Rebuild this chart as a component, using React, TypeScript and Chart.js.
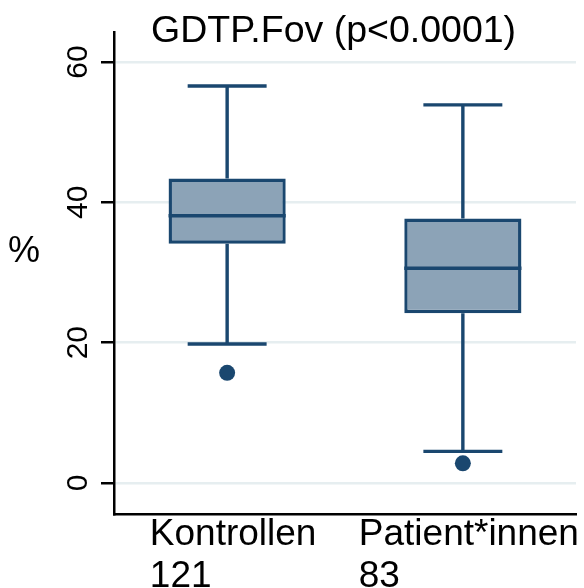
import React, { useEffect, useRef } from 'react';
import { Chart, registerables } from 'chart.js';

Chart.register(...registerables);

const categories = ['Kontrollen', 'Patient*innen'];
const counts = ['121', '83'];
const positions = [1, 2];
const q1 = [34.1, 24.2];
const median = [38.1, 30.6];
const q3 = [43.4, 37.7];
const whiskerLow = [19.8, 4.5];
const whiskerHigh = [56.6, 53.9];
const outlierPos = [1, 2];
const outlierVal = [15.7, 2.8];
const yTicks = [0, 20, 40, 60];
const titleText = 'GDTP.Fov (p<0.0001)';
const yLabel = '%';

const NAVY = '#1a476f';
const FILL = '#8ca3b7';
const FONT = '"Liberation Sans", Arial, sans-serif';
const LW = 3.4;

const boxPlugin = {
  id: 'boxExtras',
  beforeDatasetsDraw(chart: any) {
    const ctx = chart.ctx;
    const xs = chart.scales.x;
    const ys = chart.scales.y;
    const meta = chart.getDatasetMeta(0);
    ctx.save();
    ctx.strokeStyle = NAVY;
    ctx.lineWidth = LW;
    positions.forEach((p, i) => {
      const x = xs.getPixelForValue(p);
      const bar = meta.data[i];
      const half = (bar ? bar.width : 117) * 0.337;
      const yHi = ys.getPixelForValue(whiskerHigh[i]);
      const yQ3 = ys.getPixelForValue(q3[i]);
      const yQ1 = ys.getPixelForValue(q1[i]);
      const yLo = ys.getPixelForValue(whiskerLow[i]);
      ctx.beginPath();
      ctx.moveTo(x, yHi);
      ctx.lineTo(x, yQ3);
      ctx.moveTo(x, yQ1);
      ctx.lineTo(x, yLo);
      ctx.moveTo(x - half, yHi);
      ctx.lineTo(x + half, yHi);
      ctx.moveTo(x - half, yLo);
      ctx.lineTo(x + half, yLo);
      ctx.stroke();
    });
    ctx.restore();
  },
  afterDatasetsDraw(chart: any) {
    const ctx = chart.ctx;
    const xs = chart.scales.x;
    const ys = chart.scales.y;
    const meta = chart.getDatasetMeta(0);
    ctx.save();
    ctx.strokeStyle = NAVY;
    ctx.lineWidth = LW;
    positions.forEach((p, i) => {
      const x = xs.getPixelForValue(p);
      const bar = meta.data[i];
      const half = bar.width / 2;
      const y = ys.getPixelForValue(median[i]);
      ctx.beginPath();
      ctx.moveTo(x - half, y);
      ctx.lineTo(x + half, y);
      ctx.stroke();
    });
    ctx.restore();
  },
  afterDraw(chart: any) {
    const ctx = chart.ctx;
    const area = chart.chartArea;
    const xs = chart.scales.x;
    ctx.save();
    ctx.fillStyle = '#000';
    ctx.textBaseline = 'alphabetic';
    ctx.textAlign = 'left';
    // title
    ctx.font = `37.5px ${FONT}`;
    ctx.fillText(titleText, area.left + 37, area.top + 10);
    // y label
    ctx.font = `36px ${FONT}`;
    ctx.fillText(yLabel, 8, (area.top + area.bottom) / 2 - 11);
    // x category labels
    ctx.font = `37px ${FONT}`;
    positions.forEach((p, i) => {
      const cx = xs.getPixelForValue(p);
      const lines = [categories[i], counts[i]];
      const w = Math.max(...lines.map((l) => ctx.measureText(l).width));
      const left = cx - w / 2 + 6;
      ctx.fillText(lines[0], left, area.bottom + 31);
      ctx.fillText(lines[1], left, area.bottom + 73);
    });
    ctx.restore();
  },
};

export default function App() {
  const ref = useRef<HTMLCanvasElement | null>(null);
  useEffect(() => {
    if (!ref.current) return;
    const chart = new Chart(ref.current, {
      type: 'bar',
      data: {
        datasets: [
          {
            type: 'bar',
            data: positions.map((p, i) => ({ x: p, y: [q1[i], q3[i]] })) as any,
            backgroundColor: FILL,
            borderColor: NAVY,
            borderWidth: LW,
            borderSkipped: false,
            categoryPercentage: 1,
            barPercentage: 0.497,
          } as any,
          {
            type: 'scatter',
            data: outlierPos.map((p, i) => ({ x: p, y: outlierVal[i] })),
            backgroundColor: NAVY,
            borderColor: NAVY,
            borderWidth: 0,
            pointRadius: 8,
          } as any,
        ],
      },
      options: {
        animation: false,
        responsive: false,
        maintainAspectRatio: false,
        layout: { padding: { top: 32, right: 8, left: 0, bottom: 0 } },
        plugins: { legend: { display: false }, title: { display: false }, tooltip: { enabled: false } },
        scales: {
          x: {
            type: 'linear',
            offset: false,
            min: 0.52,
            max: 2.48,
            afterBuildTicks: (s: any) => {
              s.ticks = positions.map((v) => ({ value: v }));
            },
            afterFit: (s: any) => {
              s.height = 74;
            },
            ticks: { display: false },
            grid: { display: true, offset: false, drawOnChartArea: false, drawTicks: false },
            border: { display: true, color: '#000', width: 2.5 },
          },
          y: {
            type: 'linear',
            min: -4.43,
            max: 64.29,
            afterBuildTicks: (s: any) => {
              s.ticks = yTicks.map((v) => ({ value: v }));
            },
            afterFit: (s: any) => {
              s.width = 114;
            },
            ticks: {
              minRotation: 90,
              maxRotation: 90,
              crossAlign: 'center',
              padding: 6,
              color: '#000',
              font: { family: FONT, size: 30 },
            },
            grid: {
              color: '#e6eef0',
              lineWidth: 2.5,
              tickColor: '#000',
              tickLength: 13,
              tickWidth: 2.5,
            },
            border: { display: true, color: '#000', width: 2.5 },
          },
        },
      },
      plugins: [boxPlugin],
    });
    return () => chart.destroy();
  }, []);
  return (
    <div style={{ position: 'fixed', left: 0, top: 0, width: 584, height: 588, background: '#fff' }}>
      <canvas ref={ref} width={584} height={588} style={{ width: 584, height: 588 }} />
    </div>
  );
}
